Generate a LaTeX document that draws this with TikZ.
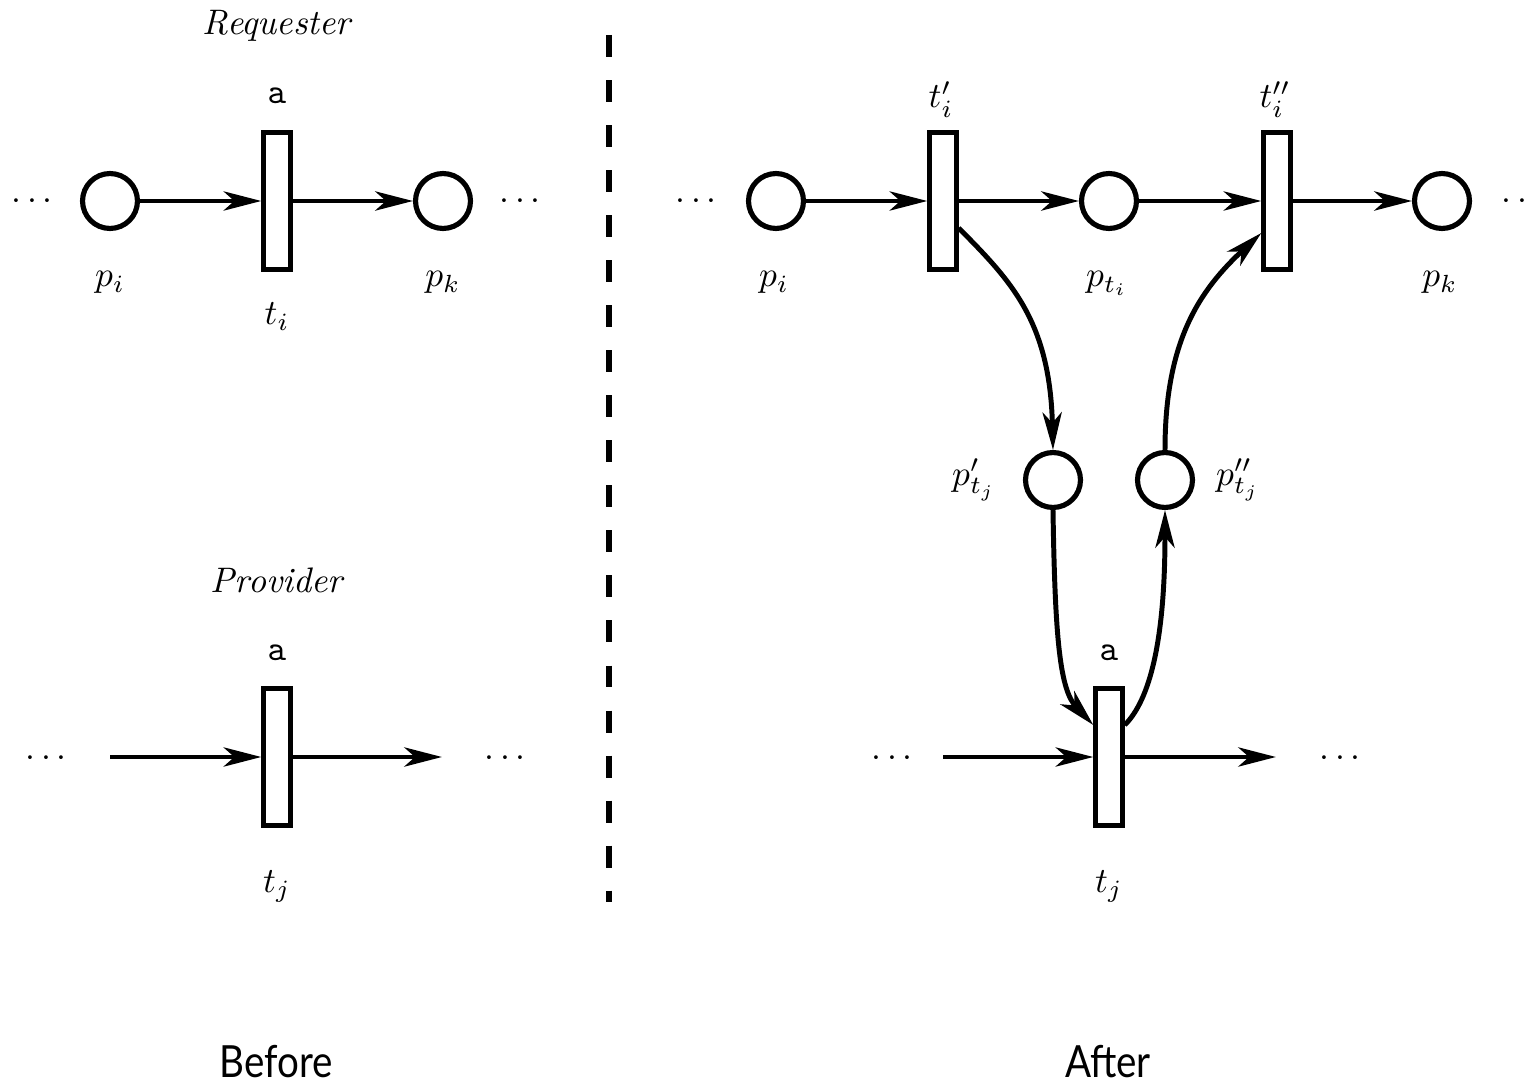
\documentclass[tikz,border=0pt]{standalone}
\usepackage{fontspec}
\usepackage{graphicx}
\newfontfamily\capfont{Lato}
\usetikzlibrary{arrows.meta,calc}

\tikzset{every picture/.style={line width=1.45pt}}
\tikzset{
  place/.style={circle,draw,line width=1.45pt,minimum size=15.5pt,inner sep=0pt},
  trans/.style={rectangle,draw,line width=1.45pt,minimum width=7.4pt,minimum height=38.6pt,inner sep=0pt},
  arc/.style={-{Stealth[length=10.6pt,width=5.4pt,inset=3pt]},line width=1.4pt},
  lbl/.style={inner sep=0pt},
  caption/.style={inner sep=0pt,anchor=base,font=\capfont\fontsize{12.5}{14}\selectfont}
}

\begin{document}
\begin{tikzpicture}[x=0.282pt,y=0.282pt,yscale=-1,xscale=1]
\useasboundingbox (0,0) rectangle (1534,1081);

%Before: requester
\node[lbl,anchor=base] (req) at (278,35) {\textit{Requester}};
\node[lbl,anchor=base] (actA) at (277,104) {\texttt{a}};
\node[trans] (tiL) at (277,201) {};
\node[place] (piL) at (110,201) {};
\node[place] (pkL) at (443,201) {};
\node[lbl,anchor=base] (dotsLa) at (32,210) {$\cdots$};
\node[lbl,anchor=base] (dotsLb) at (520,210) {$\cdots$};
\node[lbl,anchor=base] (piLlab) at (110,287) {$p_i$};
\node[lbl,anchor=base] (pkLlab) at (443,287) {$p_k$};
\node[lbl,anchor=base] (tiLlab) at (277,325) {$t_i$};
\draw[arc] (piL) -- (tiL);
\draw[arc] (tiL) -- (pkL);

%Before: provider
\node[lbl,anchor=base] (prov) at (278,592) {\textit{Provider}};
\node[lbl,anchor=base] (actB) at (277,660) {\texttt{a}};
\node[trans] (tjL) at (277,757) {};
\coordinate (tjLin) at (110,757);
\coordinate (tjLout) at (442,757);
\node[lbl,anchor=base] (dotsLc) at (46,766) {$\cdots$};
\node[lbl,anchor=base] (dotsLd) at (505,766) {$\cdots$};
\node[lbl,anchor=base] (tjLlab) at (277,892) {$t_j$};
\draw[arc] (tjLin) -- (tjL);
\draw[arc] (tjL) -- (tjLout);

%Separator
\draw[line width=1.7pt,dash pattern=on 6.2pt off 6.5pt] (609,35) -- (609,902);

%After
\node[trans] (ti1) at (943,201) {};
\node[trans] (ti2) at (1277,201) {};
\node[place] (piR) at (776,201) {};
\node[place] (pti) at (1109,201) {};
\node[place] (pkR) at (1442,201) {};
\node[place] (ptj1) at (1053,480) {};
\node[place] (ptj2) at (1165,480) {};
\node[trans] (tjR) at (1109,757) {};
\coordinate (tjRin) at (943,757);
\coordinate (tjRout) at (1276,757);

\node[lbl,anchor=base] (ti1lab) at (941,108) {$t'_i$};
\node[lbl,anchor=base] (ti2lab) at (1275,108) {$t''_i$};
\node[lbl,anchor=base] (actC) at (1109,660) {\texttt{a}};
\node[lbl,anchor=base] (dotsRa) at (696,210) {$\cdots$};
\node[lbl,anchor=base] (dotsRb) at (1522,210) {$\cdots$};
\node[lbl,anchor=base] (dotsRc) at (892,766) {$\cdots$};
\node[lbl,anchor=base] (dotsRd) at (1340,766) {$\cdots$};
\node[lbl,anchor=base] (piRlab) at (774,287) {$p_i$};
\node[lbl,anchor=base] (ptilab) at (1107,287) {$p_{t_i}$};
\node[lbl,anchor=base] (pkRlab) at (1440,287) {$p_k$};
\node[lbl,anchor=base] (ptj1lab) at (974,485) {$p'_{t_j}$};
\node[lbl,anchor=base] (ptj2lab) at (1238,485) {$p''_{t_j}$};
\node[lbl,anchor=base] (tjRlab) at (1109,892) {$t_j$};

\draw[arc] (piR) -- (ti1);
\draw[arc] (ti1) -- (pti);
\draw[arc] (pti) -- (ti2);
\draw[arc] (ti2) -- (pkR);
\draw[arc] (tjRin) -- (tjR);
\draw[arc] (tjR) -- (tjRout);
\draw[arc] ($(ti1.east)+(0,27)$) .. controls (1010,280) and (1050,320) .. (ptj1.north);
\draw[arc] (ptj1.south) .. controls (1055,640) and (1060,690) .. ($(tjR.west)+(0,-32)$);
\draw[arc] ($(tjR.east)+(0,-32)$) .. controls (1150,700) and (1165,640) .. (ptj2.south);
\draw[arc] (ptj2.north) .. controls (1165,340) and (1200,290) .. ($(ti2.west)+(0,32)$);

%Captions
\node[caption] (before) at (276,1077) {\scalebox{0.87}[1]{Before}};
\node[caption] (after) at (1108,1077) {\scalebox{0.87}[1]{After}};

\end{tikzpicture}
\end{document}
